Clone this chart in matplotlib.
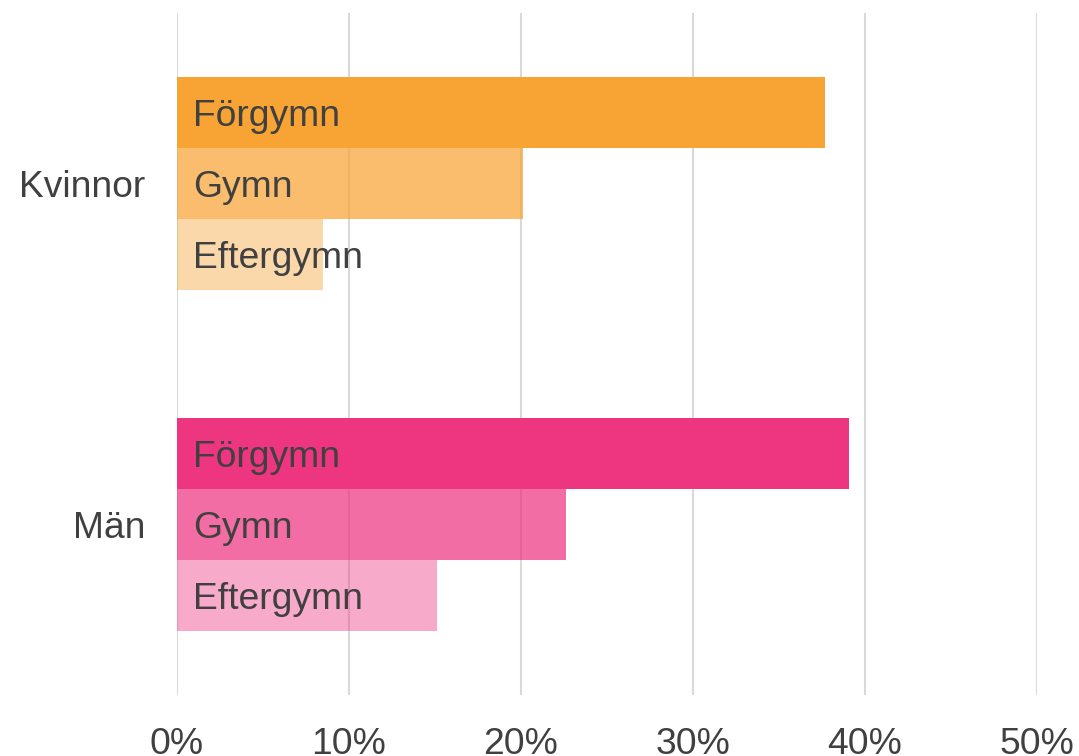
import numpy as np
import matplotlib.pyplot as plt

plt.rcParams["font.family"] = ["Liberation Sans", "DejaVu Sans"]

# ── Data ──
groups = ["Kvinnor", "Män"]
levels = ["Förgymn", "Gymn", "Eftergymn"]
kvinnor = [37.7, 20.1, 8.5]
man = [39.1, 22.6, 15.1]
xticks = [0, 10, 20, 30, 40, 50]

group_colors = ["#F7A435", "#EE3580"]
alphas = [1.0, 0.72, 0.42]
text_col = "#404040"

# ── Plot ──
fig = plt.figure(figsize=(10.79, 7.56), dpi=100)
ax = fig.add_axes([0.164, 0.0807, 0.797, 0.9023])

ypos = [1, 0]
h = 0.208
offsets = [h, 0, -h]
for gi, vals in enumerate([kvinnor, man]):
    for li, v in enumerate(vals):
        y = ypos[gi] + offsets[li]
        ax.barh(y, v, height=h, color=group_colors[gi], alpha=alphas[li],
                linewidth=0, zorder=2)
        ax.annotate(levels[li], (0, y), xytext=(11.5, -3), textcoords="offset points",
                    va="center", ha="left", fontsize=26.8, color=text_col, zorder=4)

ax.set_xlim(0, 50)
ax.set_ylim(-0.5, 1.5)
ax.set_xticks(xticks)
ax.set_xticklabels([f"{t}%" for t in xticks])
ax.set_yticks(ypos)
ax.set_yticklabels(groups)
ax.tick_params(axis="both", length=0, labelsize=26.8, labelcolor=text_col)
ax.tick_params(axis="x", pad=23)
ax.tick_params(axis="y", pad=23)
ax.grid(axis="x", color="#d9d9d9", linewidth=1.5, zorder=0)
ax.set_axisbelow(True)
for s in ax.spines.values():
    s.set_visible(False)

fig.savefig("out.png", dpi=100)
